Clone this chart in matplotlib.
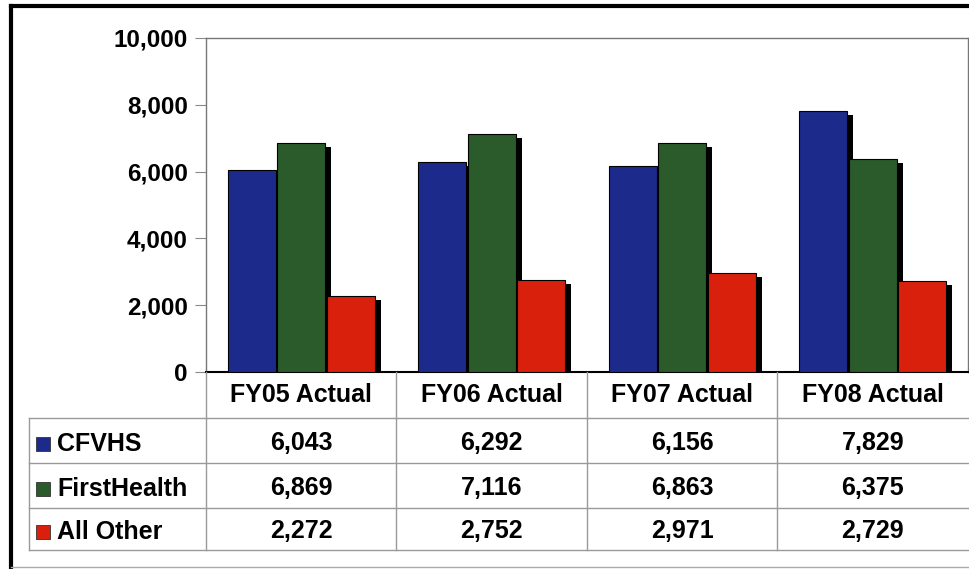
import matplotlib.pyplot as plt
from matplotlib.patches import Rectangle
from matplotlib.ticker import FuncFormatter

plt.rcParams['font.family'] = ['Liberation Sans', 'DejaVu Sans']
plt.rcParams['font.weight'] = 'bold'

categories = ['FY05 Actual', 'FY06 Actual', 'FY07 Actual', 'FY08 Actual']
series = ['CFVHS', 'FirstHealth', 'All Other']
cfvhs = [6043, 6292, 6156, 7829]
firsthealth = [6869, 7116, 6863, 6375]
all_other = [2272, 2752, 2971, 2729]
values = [cfvhs, firsthealth, all_other]
colors = ['#1c2a8c', '#2b5a2b', '#d8200c']

W, H = 969, 569
fig = plt.figure(figsize=(W / 100, H / 100), dpi=100)

# pixel layout of the plot region
left, right, top, bottom = 206, 968, 38, 372
ax = fig.add_axes([left / W, 1 - bottom / H, (right - left) / W, (bottom - top) / H])

x = range(len(categories))
bw = 0.25
offs = [-0.26, 0.0, 0.26]
sx = 6 / ((right - left) / 4)          # shadow shift, 6 px
sy = 10000 / (bottom - top) * 4        # shadow drop, 4 px
for vals, off in zip(values, offs):
    ax.bar([i + off + sx for i in x], [v - sy for v in vals], bw,
           color='black', zorder=2)
for vals, off, c in zip(values, offs, colors):
    ax.bar([i + off for i in x], vals, bw, color=c,
           edgecolor='black', linewidth=0.8, zorder=3)

ax.set_xlim(-0.5, 3.5)
ax.set_ylim(0, 10000)
ax.set_yticks(range(0, 10001, 2000))
ax.yaxis.set_major_formatter(FuncFormatter(lambda v, p: f'{int(v):,}'))
ax.tick_params(axis='y', labelsize=17.5, length=8, color='#888888', pad=5)
ax.set_xticks([])
for s in ax.spines.values():
    s.set_color('#777777')
    s.set_linewidth(1)
ax.spines['bottom'].set_color('black')
ax.spines['bottom'].set_linewidth(1.5)

# overlay axes in pixel coords for table and border
ov = fig.add_axes([0, 0, 1, 1])
ov.set_xlim(0, W)
ov.set_ylim(H, 0)
ov.axis('off')

gray = '#999999'
col_w = (right - left) / 4
row_y = [372, 418, 463, 508, 550]
tab_left = 29

# horizontal lines
for y in row_y[1:]:
    ov.plot([tab_left, W], [y, y], color=gray, lw=1)
# vertical lines
ov.plot([left, left], [bottom, row_y[-1]], color=gray, lw=1)
ov.plot([tab_left, tab_left], [row_y[1], row_y[-1]], color=gray, lw=1)
for i in range(1, 4):
    xx = left + i * col_w
    ov.plot([xx, xx], [bottom, row_y[-1]], color=gray, lw=1)

fs = 18
for i, cat in enumerate(categories):
    cx = left + (i + 0.5) * col_w
    ov.text(cx, (row_y[0] + row_y[1]) / 2, cat, ha='center', va='center',
            fontsize=fs, fontweight='bold')
    for r, vals in enumerate(values):
        cy = (row_y[r + 1] + row_y[r + 2]) / 2 + 2
        ov.text(cx, cy, f'{vals[i]:,}', ha='center', va='center',
                fontsize=fs, fontweight='bold')

for r, (name, c) in enumerate(zip(series, colors)):
    cy = (row_y[r + 1] + row_y[r + 2]) / 2 + 3
    ov.add_patch(Rectangle((36, cy - 7), 14, 14, facecolor=c,
                           edgecolor='#333333', lw=0.6))
    ov.text(57, cy, name, ha='left', va='center', fontsize=fs,
            fontweight='bold')

# outer frame
ov.plot([11, 11], [6, 568], color='black', lw=3)
ov.plot([11, W], [6, 6], color='black', lw=3)
ov.plot([11, W], [567, 567], color='#aaaaaa', lw=1)

fig.savefig('out.png', dpi=100)
